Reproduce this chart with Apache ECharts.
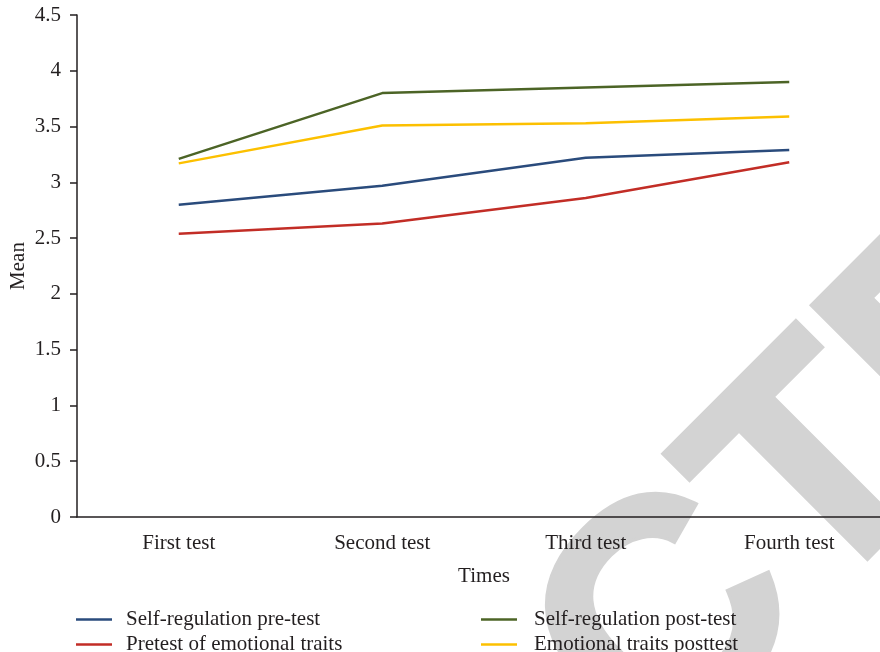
<!DOCTYPE html>
<html>
<head>
<meta charset="utf-8">
<script src="https://cdn.jsdelivr.net/npm/echarts@6/dist/echarts.min.js"></script>
<style>
html,body{margin:0;padding:0;background:#fff;}
#chart{width:880px;height:652px;}
</style>
</head>
<body>
<div id="chart"></div>
<script>
var categories = ['First test', 'Second test', 'Third test', 'Fourth test'];
var selfRegPre = [2.80, 2.97, 3.22, 3.29];
var selfRegPost = [3.21, 3.80, 3.85, 3.90];
var emoPre = [2.54, 2.63, 2.86, 3.18];
var emoPost = [3.17, 3.51, 3.53, 3.59];
var seriesNames = ['Self-regulation pre-test', 'Self-regulation post-test', 'Pretest of emotional traits', 'Emotional traits posttest'];
var seriesColors = ['#2a4b7c', '#4c6426', '#c22d26', '#fcc000'];
var yMin = 0, yMax = 4.5, yStep = 0.5;
var watermarkText = 'RETRACTED';

var FONT = '"Liberation Serif", "Times New Roman", serif';
var FS = 21;
var AX = '#231f20';
var TXT = '#231f20';
var chart = echarts.init(document.getElementById('chart'), null, {renderer: 'canvas'});

function mk(name, data, color) {
  return {
    name: name, type: 'line', data: data,
    symbol: 'none', showSymbol: false, smooth: false,
    itemStyle: {color: color},
    lineStyle: {color: color, width: 2.5},
    z: 3
  };
}

function leg(name, left, top, pad) {
  return {
    orient: 'horizontal', left: left, top: top, padding: 0,
    icon: 'rect', itemWidth: 36, itemHeight: 2.5,
    data: [name],
    textStyle: {fontFamily: FONT, fontSize: FS, color: TXT, padding: [0, 0, 0, pad]}
  };
}

chart.setOption({
  backgroundColor: '#fff',
  animation: false,
  graphic: [{
    type: 'text',
    x: -174, y: 1476,
    rotation: Math.PI / 4,
    z: -10,
    silent: true,
    style: {
      text: watermarkText,
      font: 'bold 315px "Liberation Sans", Arial, sans-serif',
      fill: '#d3d3d3',
      stroke: '#d3d3d3',
      lineWidth: 6,
      textAlign: 'left',
      textVerticalAlign: 'middle'
    }
  }],
  grid: {left: 77, right: -11, top: 15, bottom: 135, containLabel: false, outerBoundsMode: 'none'},
  legend: [
    leg(seriesNames[0], 76, 609, 9),
    leg(seriesNames[2], 76, 634, 9),
    leg(seriesNames[1], 481, 609, 12),
    leg(seriesNames[3], 481, 634, 12)
  ],
  xAxis: {
    type: 'category', data: categories, boundaryGap: true,
    name: 'Times', nameLocation: 'middle', nameGap: 49, nameMoveOverlap: false,
    nameTextStyle: {fontFamily: FONT, fontSize: FS, color: TXT},
    axisLine: {show: true, lineStyle: {color: AX, width: 1.5}},
    axisTick: {show: false},
    axisLabel: {fontFamily: FONT, fontSize: FS, color: TXT, margin: 16},
    splitLine: {show: false}
  },
  yAxis: {
    type: 'value', min: yMin, max: yMax, interval: yStep,
    name: 'Mean', nameLocation: 'middle', nameGap: 48, nameMoveOverlap: false,
    nameTextStyle: {fontFamily: FONT, fontSize: FS, color: TXT},
    axisLine: {show: true, lineStyle: {color: AX, width: 1.5}},
    axisTick: {show: true, length: 7, lineStyle: {color: AX, width: 1.5}},
    axisLabel: {fontFamily: FONT, fontSize: FS, color: TXT, margin: 16},
    splitLine: {show: false}
  },
  series: [
    mk(seriesNames[0], selfRegPre, seriesColors[0]),
    mk(seriesNames[1], selfRegPost, seriesColors[1]),
    mk(seriesNames[2], emoPre, seriesColors[2]),
    mk(seriesNames[3], emoPost, seriesColors[3])
  ]
});
</script>
</body>
</html>
